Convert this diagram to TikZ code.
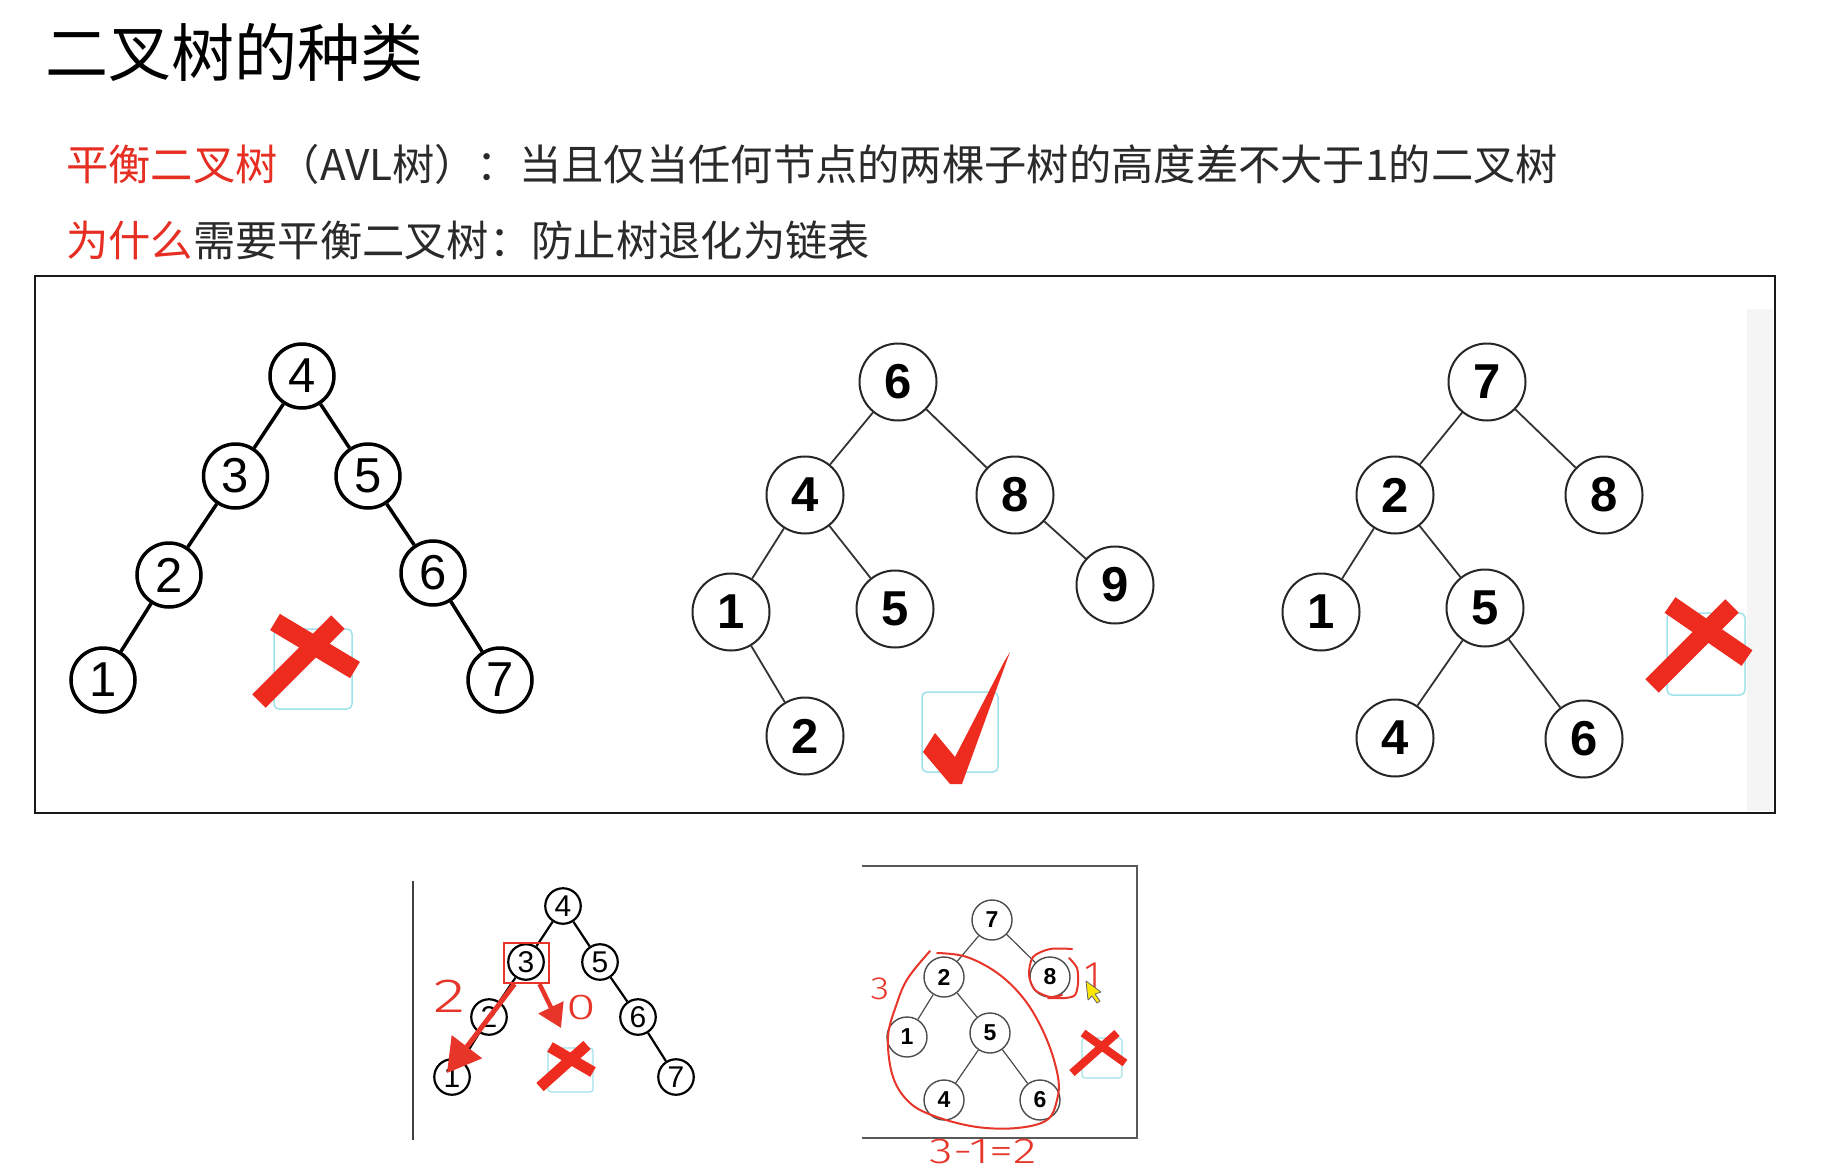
\documentclass[tikz,border=0pt]{standalone}
\usepackage{fontspec}
\setmainfont{Liberation Sans}
\newfontfamily\cjk{Noto Sans CJK SC}
\newfontfamily\hand{Fira Sans Light}
\usetikzlibrary{arrows.meta}
\definecolor{xred}{HTML}{EE2B1F}
\definecolor{tred}{HTML}{E62E22}
\definecolor{cyanbox}{HTML}{9FE2EA}
\definecolor{pen}{HTML}{E8352A}
\definecolor{txt}{HTML}{2A2A2A}
\begin{document}
\begin{tikzpicture}[x=1pt,y=-1pt,
  bigA/.style={circle,draw=black,line width=3.5pt,minimum size=64pt,inner sep=0pt,font=\fontsize{49}{49}\selectfont},
  bigB/.style={circle,draw=black!85,line width=2pt,minimum size=77pt,inner sep=0pt,font=\bfseries\fontsize{49}{49}\selectfont},
  smallA/.style={circle,draw=black,line width=2.2pt,minimum size=35.5pt,inner sep=0pt,font=\fontsize{30}{30}\selectfont},
  smallB/.style={circle,draw=black!70,line width=1.4pt,minimum size=40pt,inner sep=0pt,font=\bfseries\fontsize{23}{23}\selectfont},
  edgeA/.style={line width=3.5pt,black},
  edgeB/.style={line width=1.8pt,black!80},
  edgeSA/.style={line width=2.2pt,black},
  edgeSB/.style={line width=1.2pt,black!70},
  xbar/.style={line width=19pt,xred},
  cbox/.style={draw=cyanbox,line width=1.5pt,rounded corners=5pt},
  penline/.style={draw=pen,line width=2pt,line cap=round,line join=round},
  hw/.style={text=pen,inner sep=0pt},
]
\fill[white] (0,0) rectangle (1835,1175);
\useasboundingbox (0,0) rectangle (1835,1175);

% ---------- texts ----------
\node[anchor=west,inner sep=0pt,text=black,font=\cjk\fontsize{63}{63}\selectfont] (title) at (45,52) {二叉树的种类};
\node[anchor=west,inner sep=0pt,text=txt,font=\cjk\fontsize{42.3}{42.3}\selectfont] (line1) at (66,164) {\textcolor{tred}{平衡二叉树}（AVL树）：当且仅当任何节点的两棵子树的高度差不大于1的二叉树};
\node[anchor=west,inner sep=0pt,text=txt,font=\cjk\fontsize{42.3}{42.3}\selectfont] (line2) at (66,240) {\textcolor{tred}{为什么}需要平衡二叉树：防止树退化为链表};

% ---------- big frame ----------
\fill[black!4] (1747,309) rectangle (1773,811);
\draw[line width=2.2pt,black!90] (35,276) rectangle (1775,813);

% ---------- tree 1 ----------
\node[bigA] (t1n4) at (302,376) {4};
\node[bigA] (t1n3) at (235.5,476) {3};
\node[bigA] (t1n5) at (368,476) {5};
\node[bigA] (t1n2) at (169,575) {2};
\node[bigA] (t1n6) at (433,573) {6};
\node[bigA] (t1n1) at (103,680) {1};
\node[bigA] (t1n7) at (500,680) {7};
\draw[edgeA] (t1n4)--(t1n3);
\draw[edgeA] (t1n4)--(t1n5);
\draw[edgeA] (t1n3)--(t1n2);
\draw[edgeA] (t1n5)--(t1n6);
\draw[edgeA] (t1n2)--(t1n1);
\draw[edgeA] (t1n6)--(t1n7);
\draw[cbox] (274,629) rectangle (352,709);
\draw[xbar] (275,622)--(355,670);
\draw[xbar] (259,701)--(338,622);

% ---------- tree 2 ----------
\node[bigB] (t2n6) at (898,382) {6};
\node[bigB] (t2n4) at (805,495) {4};
\node[bigB] (t2n8) at (1015,495) {8};
\node[bigB] (t2n1) at (731,612) {1};
\node[bigB] (t2n5) at (895,609) {5};
\node[bigB] (t2n9) at (1115,585) {9};
\node[bigB] (t2n2) at (805,736) {2};
\draw[edgeB] (t2n6)--(t2n4);
\draw[edgeB] (t2n6)--(t2n8);
\draw[edgeB] (t2n4)--(t2n1);
\draw[edgeB] (t2n4)--(t2n5);
\draw[edgeB] (t2n8)--(t2n9);
\draw[edgeB] (t2n1)--(t2n2);
\draw[cbox] (922,692) rectangle (998,772);
\fill[xred] (1010,652) -- (962,784) -- (950,784) -- (923,752) -- (935,733) -- (955,757) -- (1004,662) -- cycle;

% ---------- tree 3 ----------
\node[bigB] (t3n7) at (1487,382) {7};
\node[bigB] (t3n2) at (1395,495) {2};
\node[bigB] (t3n8) at (1604,495) {8};
\node[bigB] (t3n1) at (1321,612) {1};
\node[bigB] (t3n5) at (1485,608) {5};
\node[bigB] (t3n4) at (1395,738) {4};
\node[bigB] (t3n6) at (1584,739) {6};
\draw[edgeB] (t3n7)--(t3n2);
\draw[edgeB] (t3n7)--(t3n8);
\draw[edgeB] (t3n2)--(t3n1);
\draw[edgeB] (t3n2)--(t3n5);
\draw[edgeB] (t3n5)--(t3n4);
\draw[edgeB] (t3n5)--(t3n6);
\draw[cbox] (1667,613) rectangle (1745,695);
\draw[xbar] (1670,605)--(1747,658);
\draw[xbar] (1652,686)--(1732,606);

% ---------- bottom-left sketch ----------
\draw[line width=2pt,black!75] (413,881)--(413,1140);
\node[smallA] (s1n4) at (563,906) {4};
\node[smallA] (s1n3) at (526,962) {3};
\node[smallA] (s1n5) at (600,962) {5};
\node[smallA] (s1n2) at (489,1017) {2};
\node[smallA] (s1n6) at (638,1017) {6};
\node[smallA] (s1n1) at (452,1077) {1};
\node[smallA] (s1n7) at (676,1077) {7};
\draw[edgeSA] (s1n4)--(s1n3);
\draw[edgeSA] (s1n4)--(s1n5);
\draw[edgeSA] (s1n3)--(s1n2);
\draw[edgeSA] (s1n5)--(s1n6);
\draw[edgeSA] (s1n2)--(s1n1);
\draw[edgeSA] (s1n6)--(s1n7);
\draw[cbox,line width=1.2pt,rounded corners=3pt] (548,1048) rectangle (593,1092);
\draw[xbar,line width=11pt] (550,1047)--(593,1072);
\draw[xbar,line width=11pt] (540,1087)--(587,1045);
\node[draw=pen,line width=2pt,minimum width=45pt,minimum height=40pt,inner sep=0pt] (rbox) at (526.5,963) {};
\coordinate (a1end) at (447,1073);
\coordinate (a2end) at (561,1028);
\draw[pen,line width=5pt,-{Triangle[length=33pt,width=37pt]}] ([xshift=-12pt]rbox.south) -- (a1end);
\draw[pen,line width=4.5pt,-{Triangle[length=23pt,width=27pt]}] ([xshift=13pt]rbox.south) -- (a2end);
\node[hw,font=\hand\fontsize{48}{48}\selectfont,xscale=1.4] (h2) at (450,996) {2};
\node[hw,font=\hand\fontsize{36}{36}\selectfont,xscale=1.5] (h0) at (581,1008) {0};

% ---------- bottom-right sketch ----------
\draw[line width=1.5pt,black!65] (862,866) -- (1137,866) -- (1137,1138) -- (862,1138);
\node[smallB] (s2n7) at (992,920) {7};
\node[smallB] (s2n2) at (944,977) {2};
\node[smallB] (s2n8) at (1050,977) {8};
\node[smallB] (s2n1) at (907,1037) {1};
\node[smallB] (s2n5) at (990,1033) {5};
\node[smallB] (s2n4) at (944,1100) {4};
\node[smallB] (s2n6) at (1040,1100) {6};
\draw[edgeSB] (s2n7)--(s2n2);
\draw[edgeSB] (s2n7)--(s2n8);
\draw[edgeSB] (s2n2)--(s2n1);
\draw[edgeSB] (s2n2)--(s2n5);
\draw[edgeSB] (s2n5)--(s2n4);
\draw[edgeSB] (s2n5)--(s2n6);
\draw[cbox,line width=1.2pt,rounded corners=3pt] (1082,1038) rectangle (1122,1078);
\draw[xbar,line width=8pt] (1083,1033)--(1125,1063);
\draw[xbar,line width=8pt] (1072,1073)--(1117,1033);
\draw[penline] plot[smooth,tension=0.6] coordinates {(937,953) (967,957) (1000,975) (1027,1003) (1047,1040) (1058,1077) (1057,1100) (1047,1120) (1017,1128) (977,1127) (937,1117) (910,1103) (893,1077) (888,1037) (897,1003) (908,978) (930,951)};
\draw[penline] plot[smooth] coordinates {(1072,949) (1050,949) (1033,957) (1029,975) (1035,990) (1050,997) (1062,995)};
\draw[penline] plot[smooth] coordinates {(1069,958) (1077,968) (1078,983) (1075,995) (1065,998) (1048,998)};
\node[hw,font=\hand\fontsize{40}{40}\selectfont] (h1) at (1093,976) {1};
\node[hw,font=\hand\fontsize{32}{32}\selectfont,xscale=1.2] (h3) at (880,989) {3};
\node[hw,font=\hand\fontsize{36}{36}\selectfont,xscale=1.35] (heq) at (983,1152) {3-1=2};
\filldraw[fill=yellow!90!orange,draw=black!60,line width=0.8pt,line join=round] (1086,981) -- (1088,1000) -- (1092,996) -- (1097,1003) -- (1100,1001) -- (1095,994) -- (1101,992) -- cycle;
\end{tikzpicture}
\end{document}
